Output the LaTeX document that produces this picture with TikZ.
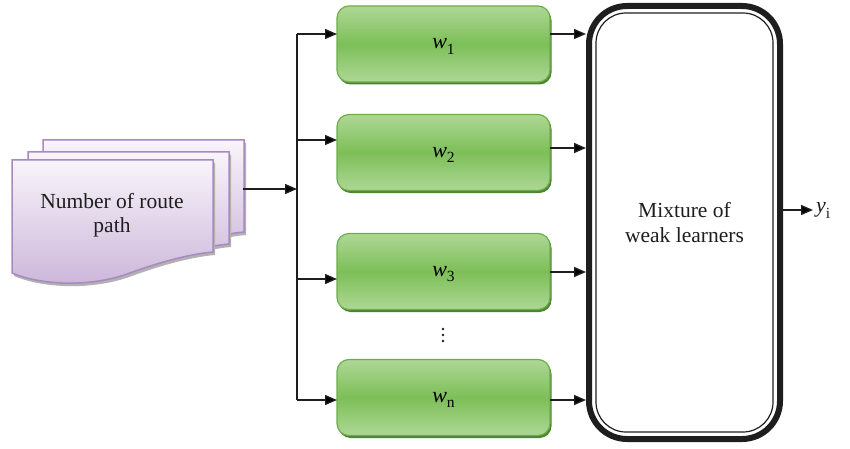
\documentclass[tikz,border=0pt]{standalone}
\usepackage{fontspec}
\setmainfont{Liberation Serif}
\usetikzlibrary{arrows.meta,shadows}
\definecolor{gtop}{HTML}{AED795}
\definecolor{gmid}{HTML}{7DBF58}
\definecolor{gbrd}{HTML}{6DAE4B}
\definecolor{gshd}{HTML}{4C8532}
\definecolor{ptop}{HTML}{F8F4FA}
\definecolor{pbot}{HTML}{CBB5D9}
\definecolor{pbrd}{HTML}{A68AC0}
\definecolor{ink}{HTML}{1E1E1E}
\tikzset{
  weakbox/.style={draw=gbrd, line width=1.2pt, rounded corners=12pt,
    top color=gtop, bottom color=gtop, middle color=gmid,
    minimum width=213pt, minimum height=76pt, inner sep=0pt, outer sep=0pt,
    drop shadow={shadow xshift=1.5pt, shadow yshift=-2.5pt, fill=gshd, opacity=1},
    font=\fontsize{22}{26}\selectfont},
  docpage/.style={draw=pbrd, line width=1.5pt, top color=ptop, bottom color=pbot},
  docshadow/.style={fill=black!30},
  arr/.style={draw=ink, line width=1.4pt, -{Triangle[length=12pt,width=10pt]}},
  bus/.style={draw=ink, line width=1.4pt},
  lbl/.style={font=\fontsize{21.5}{24.5}\selectfont, align=center, text=ink}
}
\newcommand{\wsub}[2]{{\itshape #1}\smash{\raisebox{-5.5pt}{\fontsize{15.5}{15.5}\selectfont #2}}}
\newcommand{\docshape}[2]{%
  (12+#1,160+#2) -- (213+#1,160+#2) -- (213+#1,252+#2)
  .. controls (190+#1,254+#2) and (160+#1,262+#2) .. (130+#1,273+#2)
  .. controls (90+#1,288+#2) and (40+#1,285+#2) .. (12+#1,273+#2) -- cycle}
\begin{document}
\begin{tikzpicture}[x=1pt,y=-1pt]
\useasboundingbox (0,0) rectangle (850,449);
% document stack
\fill[docshadow] \docshape{33}{-17};
\path[docpage] \docshape{31}{-20};
\fill[docshadow] \docshape{18}{-5};
\path[docpage] \docshape{16}{-8};
\fill[docshadow] \docshape{2}{3};
\path[docpage] \docshape{0}{0};
\node[lbl] (doc) at (112,215) {Number of route\\path};
\coordinate (docR) at (243,189);
% weak learners
\node[weakbox] (w1) at (443.5,44) {\wsub{w}{1}};
\node[weakbox] (w2) at (443.5,152.5) {\wsub{w}{2}};
\node[weakbox] (w3) at (443.5,271.5) {\wsub{w}{3}};
\node[weakbox] (wn) at (443.5,397.5) {\wsub{w}{n}};
\node[text=ink, inner sep=0pt] (dots) at (443,335) {%
  \tikz[x=1pt,y=1pt]{\fill[ink] (0,0) circle (1.3) (0,6) circle (1.3) (0,12) circle (1.3);}};
% mixture
\node[draw=ink, line width=6pt, rounded corners=38pt, minimum width=191pt,
  minimum height=433pt, inner sep=0pt, outer sep=3pt, lbl] (mix) at (684.5,222.5)
  {Mixture of\\weak learners};
\draw[ink, line width=1.2pt, rounded corners=30pt]
  ([shift={(10,10)}]mix.north west) rectangle ([shift={(-10,-10)}]mix.south east);
% bus
\coordinate (bt) at (297,34);
\coordinate (bb) at (297,400);
\draw[bus] (bt) -- (bb);
\draw[arr] (docR) -- (docR -| bt);
\coordinate (l1) at (0,34);
\coordinate (l2) at (0,140);
\coordinate (l3) at (0,279);
\coordinate (l4) at (0,400);
\draw[arr] (bt |- l1) -- (w1.west |- l1);
\draw[arr] (bt |- l2) -- (w2.west |- l2);
\draw[arr] (bt |- l3) -- (w3.west |- l3);
\draw[arr] (bt |- l4) -- (wn.west |- l4);
\coordinate (r1) at (0,34);
\coordinate (r2) at (0,148);
\coordinate (r3) at (0,272);
\coordinate (r4) at (0,400);
\draw[arr] (w1.east |- r1) -- (mix.west |- r1);
\draw[arr] (w2.east |- r2) -- (mix.west |- r2);
\draw[arr] (w3.east |- r3) -- (mix.west |- r3);
\draw[arr] (wn.east |- r4) -- (mix.west |- r4);
% output
\node[lbl, anchor=west, inner sep=1pt, font=\fontsize{22}{26}\selectfont] (yi) at (815,210) {\wsub{y}{i}};
\draw[arr] (mix.east |- yi) -- ([xshift=-2pt]yi.west);
\end{tikzpicture}
\end{document}
